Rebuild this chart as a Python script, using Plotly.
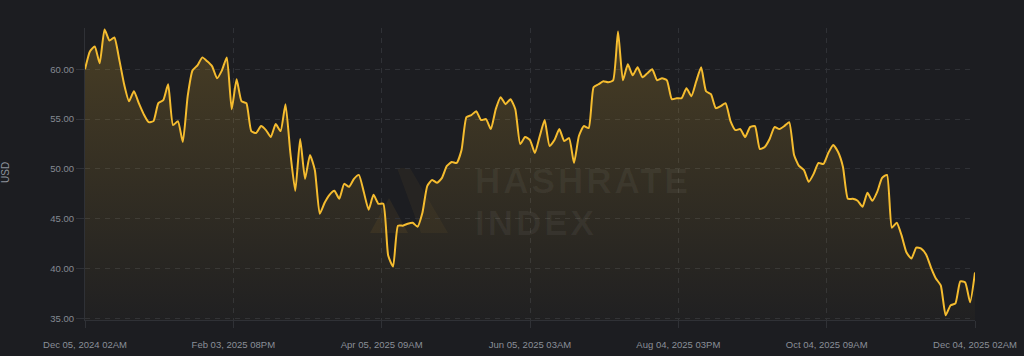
import pandas as pd
import plotly.graph_objects as go

# ---- data ----
values = [
    60.0, 61.8, 62.3, 60.6, 64.0, 62.9, 63.2, 61.0, 58.5, 56.8,
    57.8, 56.6, 55.5, 54.7, 54.8, 56.6, 56.9, 58.5, 54.4, 54.8,
    52.7, 57.3, 59.9, 60.4, 61.2, 60.8, 60.3, 59.1, 59.9, 61.2,
    56.0, 59.0, 56.8, 56.6, 53.8, 53.6, 54.3, 53.9, 53.2, 54.5,
    53.8, 56.5, 51.6, 47.8, 53.0, 49.0, 51.4, 49.9, 45.5, 46.6,
    47.4, 47.8, 47.0, 48.5, 48.2, 49.0, 49.4, 47.7, 45.9, 47.4,
    46.5, 46.5, 41.3, 40.2, 44.3, 44.3, 44.5, 44.6, 44.2, 45.6,
    48.3, 48.9, 48.6, 49.1, 50.3, 50.7, 50.6, 51.9, 55.2, 55.4,
    55.8, 54.9, 55.0, 54.0, 56.0, 57.2, 56.5, 57.0, 56.0, 52.5,
    53.2, 52.9, 51.6, 53.3, 54.9, 52.3, 52.9, 54.0, 52.8, 53.1,
    50.6, 53.3, 54.3, 54.1, 58.2, 58.5, 58.8, 58.7, 58.9, 63.8,
    58.9, 60.5, 59.4, 60.2, 59.2, 59.6, 60.0, 58.9, 59.1, 58.9,
    57.0, 57.1, 57.1, 58.1, 57.3, 58.8, 60.2, 57.8, 57.5, 56.1,
    56.3, 56.6, 54.8, 53.9, 54.0, 53.2, 54.2, 54.3, 52.0, 52.2,
    53.0, 54.2, 54.0, 54.3, 54.7, 51.4, 50.3, 49.9, 48.7, 49.5,
    50.6, 50.5, 51.6, 52.4, 51.7, 50.2, 47.0, 47.0, 46.8, 46.2,
    47.6, 46.8, 47.7, 49.1, 49.4, 44.1, 44.6, 43.3, 41.6, 41.0,
    42.1, 42.0, 41.4, 40.1, 39.0, 38.3, 35.3, 36.3, 36.5, 38.7,
    38.6, 36.6, 39.6,
]
start_date = "2024-12-05 02:00"
step = "2D"
tick_labels = [
    "Dec 05, 2024 02AM", "Feb 03, 2025 08PM", "Apr 05, 2025 09AM",
    "Jun 05, 2025 03AM", "Aug 04, 2025 03PM", "Oct 04, 2025 09AM",
    "Dec 04, 2025 02AM",
]
y_ticks = [35, 40, 45, 50, 55, 60]
y_title = "USD"
watermark = ["HASHRATE", "INDEX"]

# ---- build ----
dates = pd.date_range(start_date, periods=len(values), freq=step)
span = dates[-1] - dates[0]
tick_vals = [dates[0] + span * k / (len(tick_labels) - 1) for k in range(len(tick_labels))]

BG = "#1c1d21"
GRID = "#2f3136"
LINE = "#f5bc2f"
FONT = "Liberation Sans, Arial, sans-serif"
y_lo, y_hi = 34.83, 64.15

fig = go.Figure()
fig.add_trace(go.Scatter(
    x=dates, y=values, mode="lines",
    line=dict(color=LINE, width=2, shape="spline", smoothing=0.5),
    fill="tozeroy",
    fillgradient=dict(
        type="vertical", start=y_lo, stop=y_hi,
        colorscale=[[0, "rgba(240,185,50,0.02)"], [1, "rgba(240,185,50,0.21)"]],
    ),
    hoverinfo="skip", showlegend=False,
))

# plot area in pixels: x 85..975, y 28..320
L, R, T, B = 85, 975, 28, 320
def px(xp):
    return (xp - L) / (R - L)
def py(yp):
    return (B - yp) / (B - T)

def path(points):
    return "M " + " L ".join(f"{px(a):.4f},{py(b):.4f}" for a, b in points) + " Z"

shapes = [
    dict(type="path", xref="paper", yref="paper", layer="below",
         path=path([(370, 233), (389, 198), (408, 233)]),
         fillcolor="rgba(240,185,50,0.07)", line=dict(width=0)),
    dict(type="path", xref="paper", yref="paper", layer="below",
         path=path([(397, 168), (410, 168), (448, 233), (421, 233)]),
         fillcolor="rgba(240,185,50,0.05)", line=dict(width=0)),
]

WM_COLOR = "rgba(210,210,210,0.06)"
annotations = [
    dict(text=f"<b><span style='letter-spacing:3px'>{watermark[0]}</span></b>",
         xref="paper", yref="paper",
         x=px(473), y=py(180), xanchor="left", yanchor="middle", showarrow=False,
         font=dict(family=FONT, size=35, color=WM_COLOR)),
    dict(text=f"<b><span style='letter-spacing:3px'>{watermark[1]}</span></b>",
         xref="paper", yref="paper",
         x=px(473), y=py(222), xanchor="left", yanchor="middle", showarrow=False,
         font=dict(family=FONT, size=35, color=WM_COLOR)),
    dict(text=y_title, xref="paper", yref="paper", x=px(5), y=py(173),
         xanchor="center", yanchor="middle", textangle=-90, showarrow=False,
         font=dict(family=FONT, size=10, color="#8d929b")),
]

fig.update_layout(
    width=1024, height=356,
    margin=dict(l=L, r=1024 - R, t=T, b=356 - B),
    paper_bgcolor=BG, plot_bgcolor=BG,
    shapes=shapes, annotations=annotations,
    font=dict(family=FONT, size=9.5, color="#858a93"),
)
fig.update_xaxes(
    automargin=False,
    range=[dates[0], dates[-1]],
    tickmode="array", tickvals=tick_vals, ticktext=tick_labels,
    showgrid=True, gridcolor=GRID, griddash="5px,5px", gridwidth=1,
    ticks="outside", ticklen=7, tickcolor=GRID,
    showline=True, linecolor=GRID, linewidth=1,
    ticklabelstandoff=9, zeroline=False,
    tickfont=dict(family=FONT, size=9.5, color="#8a8f98"),
)
fig.update_yaxes(
    automargin=False,
    range=[y_lo, y_hi],
    tickmode="array", tickvals=y_ticks, ticktext=[f"{v:.2f}" for v in y_ticks],
    showgrid=True, gridcolor=GRID, griddash="5px,5px", gridwidth=1,
    ticks="outside", ticklen=8, tickcolor=GRID,
    showline=True, linecolor=GRID, linewidth=1,
    zeroline=False,
    tickfont=dict(family=FONT, size=9.5, color="#858a93"),
)

fig.write_html(
    "out.html",
    config={"displayModeBar": False},
    post_script="document.body.style.margin='0';document.body.style.overflow='hidden';"
                f"document.body.style.background='{BG}';",
)
